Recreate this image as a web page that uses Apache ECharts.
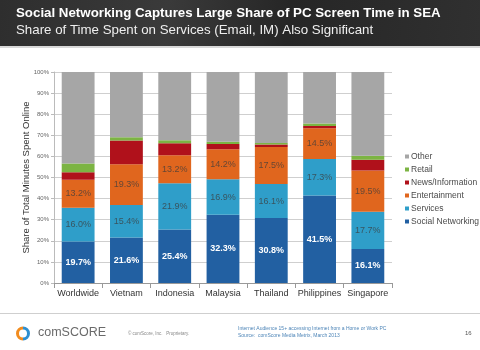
<!DOCTYPE html>
<html>
<head>
<meta charset="utf-8">
<script src="https://cdn.jsdelivr.net/npm/echarts@6/dist/echarts.min.js"></script>
<style>
  html, body { margin: 0; padding: 0; background: #fff; }
  #chart { width: 480px; height: 350px; }
</style>
</head>
<body>
<div id="chart"></div>
<script>
// categories and stacked shares (%), bottom to top
var countries = ['Worldwide', 'Vietnam', 'Indonesia', 'Malaysia', 'Thailand', 'Philippines', 'Singapore'];
var socialNetworking = [19.7, 21.6, 25.4, 32.3, 30.8, 41.5, 16.1];
var services         = [16.0, 15.4, 21.9, 16.9, 16.1, 17.3, 17.7];
var entertainment    = [13.2, 19.3, 13.2, 14.2, 17.5, 14.5, 19.5];
var newsInformation  = [3.6, 11.2, 5.7, 2.5, 1.2, 1.1, 5.1];
var retail           = [4.1, 1.6, 1.5, 1.1, 0.8, 1.2, 1.9];
var other            = [43.4, 30.9, 32.3, 33.0, 33.6, 24.4, 39.7];
var yTicks = [0, 10, 20, 30, 40, 50, 60, 70, 80, 90, 100];

var font = 'Liberation Sans, Arial, Helvetica, sans-serif';
var chart = echarts.init(document.getElementById('chart'));

function pct(p) { return p.value.toFixed(1) + '%'; }

function makeSeries(name, data, color, label) {
    return {
        name: name,
        type: 'bar',
        stack: 'total',
        barWidth: '68%',
        data: data,
        itemStyle: { color: color },
        label: label ? Object.assign({ show: true, position: 'inside', formatter: pct, fontFamily: font }, label) : { show: false }
    };
}

chart.setOption({
    animation: false,
    textStyle: { fontFamily: font },
    graphic: [
        // header band
        { type: 'rect', shape: { x: 0, y: 0, width: 480, height: 46 },
          style: { fill: new echarts.graphic.LinearGradient(0, 0, 1, 1, [
              { offset: 0, color: '#2e2e2e' }, { offset: 0.35, color: '#3a3a3a' },
              { offset: 0.6, color: '#262626' }, { offset: 1, color: '#303030' }]) } },
        { type: 'rect', shape: { x: 0, y: 46, width: 480, height: 2 }, style: { fill: '#d8d8d8' } },
        { type: 'text', left: 16, top: 7, style: { text: 'Social Networking Captures Large Share of PC Screen Time in SEA',
          fill: '#fff', font: 'bold 13.3px ' + font } },
        { type: 'text', left: 16, top: 24, style: { text: 'Share of Time Spent on Services (Email, IM) Also Significant',
          fill: '#eee', font: '13.3px ' + font } },
        // footer
        { type: 'rect', shape: { x: 0, y: 313, width: 480, height: 1 }, style: { fill: '#cfcfcf' } },
        { type: 'sector', shape: { cx: 23, cy: 333.5, r: 7, r0: 4, startAngle: Math.PI * 0.5, endAngle: Math.PI * 1.5 }, style: { fill: '#f28c1e' } },
        { type: 'sector', shape: { cx: 23, cy: 333.5, r: 7, r0: 4, startAngle: -Math.PI * 0.5, endAngle: Math.PI * 0.5 }, style: { fill: '#2f8fd0' } },
        { type: 'text', left: 38, top: 326, style: { text: 'comSCORE', fill: '#6a6a6a', font: '12.5px ' + font } },
        { type: 'text', left: 128, top: 331, style: { text: '© comScore, Inc.   Proprietary.', fill: '#888', font: '4.5px ' + font } },
        { type: 'text', left: 238, top: 325, style: { text: 'Internet Audience 15+ accessing Internet from a Home or Work PC\nSource:  comScore Media Metrix, March 2013',
          fill: '#4f86b8', font: '5px ' + font, lineHeight: 7 } },
        { type: 'text', left: 465, top: 330, style: { text: '16', fill: '#555', font: '6px ' + font } }
    ],
    legend: {
        orient: 'vertical',
        left: 400,
        top: 147,
        icon: 'rect',
        itemWidth: 4,
        itemHeight: 4,
        itemGap: 4,
        data: ['Other', 'Retail', 'News/Information', 'Entertainment', 'Services', 'Social Networking'],
        textStyle: { fontSize: 8.5, color: '#4a4a4a', padding: [0, 0, 0, -3] }
    },
    grid: { left: 54, right: 88, top: 72, bottom: 67 },
    xAxis: {
        type: 'category',
        data: countries,
        axisLine: { lineStyle: { color: '#999' } },
        axisTick: { show: true, lineStyle: { color: '#999' } },
        axisLabel: { color: '#333', fontSize: 9, margin: 6, interval: 0 }
    },
    yAxis: {
        type: 'value',
        min: yTicks[0],
        max: yTicks[yTicks.length - 1],
        interval: 10,
        name: 'Share of Total Minutes Spent Online',
        nameLocation: 'middle',
        nameGap: 23,
        nameMoveOverlap: false,
        nameTextStyle: { fontSize: 9.5, color: '#333' },
        axisLine: { show: true, lineStyle: { color: '#bbb' } },
        axisTick: { show: true, length: 3, lineStyle: { color: '#bbb' } },
        axisLabel: { formatter: '{value}%', fontSize: 6, color: '#666', margin: 5 },
        splitLine: { lineStyle: { color: '#cfcfcf' } }
    },
    series: [
        makeSeries('Social Networking', socialNetworking, '#2260a2', { color: '#fff', fontWeight: 'bold', fontSize: 9 }),
        makeSeries('Services', services, '#2f9ec9', { color: 'rgba(60,60,60,0.75)', fontSize: 9 }),
        makeSeries('Entertainment', entertainment, '#e0661e', { color: 'rgba(60,60,60,0.75)', fontSize: 9 }),
        makeSeries('News/Information', newsInformation, '#b0111b'),
        makeSeries('Retail', retail, '#7cb443'),
        makeSeries('Other', other, '#a6a6a6')
    ]
});
</script>
</body>
</html>
